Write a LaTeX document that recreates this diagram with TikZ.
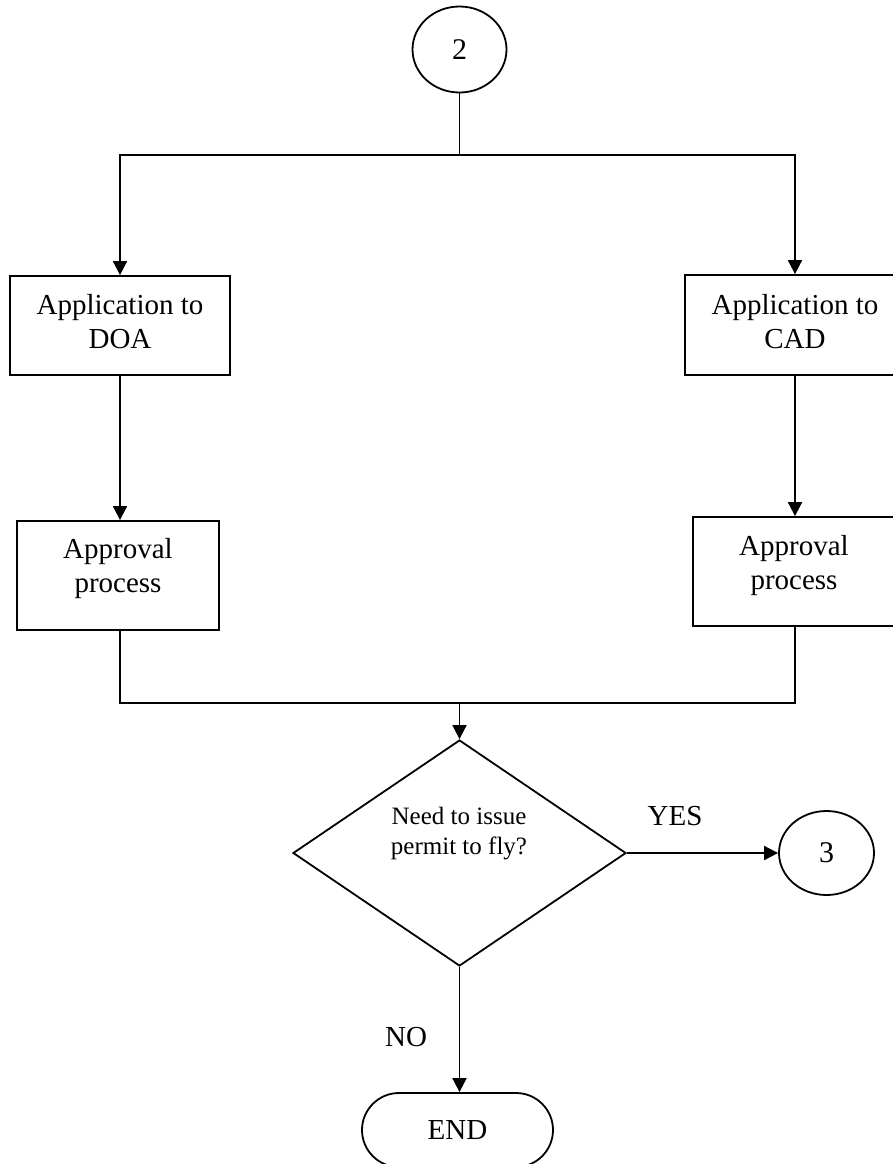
\documentclass[tikz,border=0pt]{standalone}
\usepackage{fontspec}
\setmainfont{Liberation Serif}
\usetikzlibrary{shapes.geometric,shapes.misc,arrows.meta}
\begin{document}
\begin{tikzpicture}[x=1pt,y=-1pt,
  line width=1.8pt,
  box/.style={draw, rectangle, inner sep=0pt, line width=1.8pt},
  conn/.style={-{Triangle[length=14pt,width=14pt]}, line width=1.8pt},
  plain/.style={line width=1.8pt},
  txt/.style={font=\fontsize{29}{34}\selectfont, align=center, inner sep=0pt},
  smalltxt/.style={font=\fontsize{25}{30}\selectfont, align=center, inner sep=0pt},
  ]
\useasboundingbox (0,0) rectangle (893,1164);
\clip (0,0) rectangle (893,1164);

% connector circles
\node[ellipse, draw, line width=1.8pt, minimum width=94pt, minimum height=86pt, inner sep=0pt, font=\fontsize{30}{34}\selectfont] (c2) at (459.5,49.5) {2};
\node[ellipse, draw, line width=1.8pt, minimum width=95pt, minimum height=84pt, inner sep=0pt, font=\fontsize{30}{34}\selectfont] (c3) at (826.5,853) {3};

% boxes
\node[box, minimum width=220pt, minimum height=99pt] (app1) at (120,325.5) {};
\node[txt] (app1t) at (120,321.5) {Application to\\DOA};
\node[box, minimum width=220pt, minimum height=100pt] (app2) at (795,325) {};
\node[txt] (app2t) at (795,321.5) {Application to\\CAD};
\node[box, minimum width=202pt, minimum height=109pt] (ap1) at (118,575.5) {};
\node[txt] (ap1t) at (118,569) {Approval\\process};
\node[box, minimum width=202pt, minimum height=109pt] (ap2) at (794,571.5) {};
\node[txt] (ap2t) at (794,566) {Approval\\process};

% decision
\node[diamond, draw, line width=1.8pt, minimum width=333pt, minimum height=226pt, inner sep=0pt] (dia) at (459.5,853) {};
\node[smalltxt] (diat) at (459,834) {Need to issue\\permit to fly?};

% end
\node[rounded rectangle, draw, line width=1.8pt, minimum width=191pt, minimum height=74pt, inner sep=0pt, font=\fontsize{29}{34}\selectfont] (end) at (457.5,1130) {END};

% labels
\node[txt] (yes) at (675,816) {YES};
\node[txt] (no) at (406,1037) {NO};

% connectors
\coordinate (split) at (459.5,155);
\coordinate (merge) at (459.5,703);
\draw[plain] (c2.south) -- (split);
\draw[conn] (split) -| (app1.north);
\draw[conn] (split) -| (app2.north);
\draw[conn] (app1.south) -- (app1.south |- ap1.north);
\draw[conn] (app2.south) -- (app2.south |- ap2.north);
\draw[plain] (app1.south |- ap1.south) |- (merge) -| (app2.south |- ap2.south);
\draw[conn] (merge) -- (dia.north);
\draw[conn] (dia.east) -- (c3.west);
\draw[conn] (dia.south) -- (dia.south |- end.north);
\end{tikzpicture}
\end{document}
